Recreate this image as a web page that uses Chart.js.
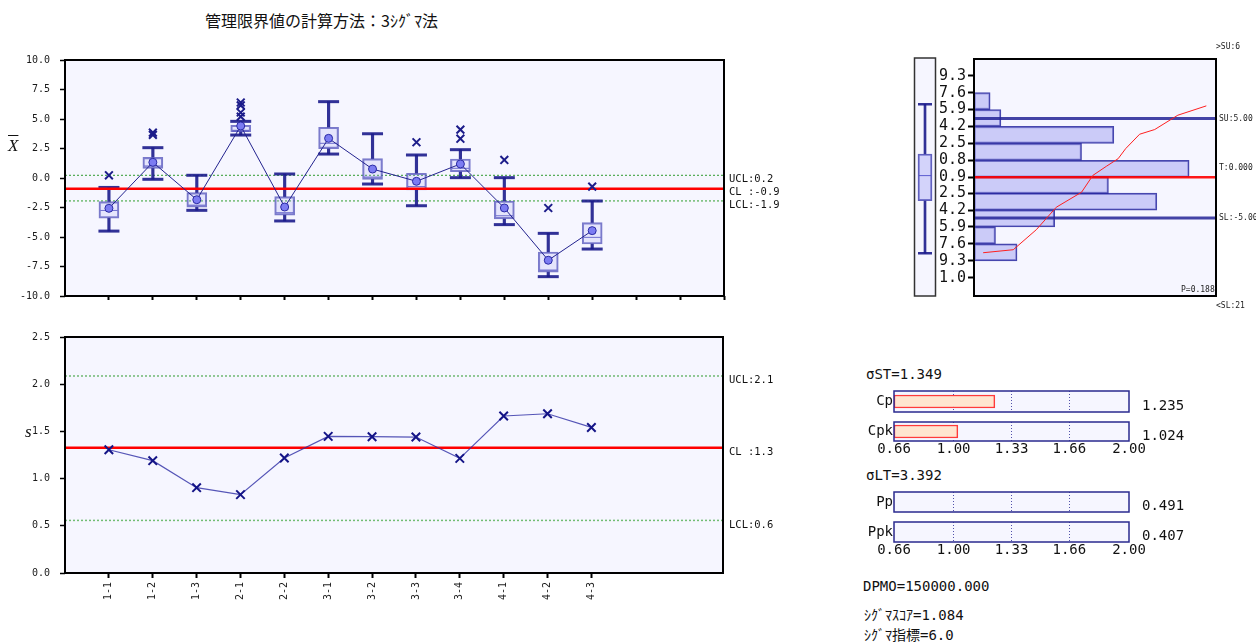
<!DOCTYPE html>
<html><head><meta charset="utf-8">
<script src="https://cdn.jsdelivr.net/npm/chart.js"></script>
<style>
body{margin:0;background:#fff;width:1256px;height:644px;overflow:hidden;position:relative;font-family:'DejaVu Sans Mono','Noto Sans CJK JP',monospace;}
canvas{position:absolute;z-index:1;}
.t{position:absolute;z-index:5;white-space:nowrap;color:#111;line-height:1;transform:translateY(-50%);}
.c{font-size:14px;font-family:'DejaVu Sans Mono','Noto Sans CJK JP',monospace;}
.s{font-size:8px;font-family:'DejaVu Sans Mono',monospace;color:#222;}
</style></head><body>
<div class="t" style="left:205px;top:20px;font:16px 'Noto Sans CJK JP';">管理限界値の計算方法：3ｼｸﾞﾏ法</div>
<div class="t" style="left:8px;top:146px;font:italic 17px 'Liberation Serif';text-decoration:overline;">X</div>
<div class="t" style="left:25px;top:432px;font:italic 17px 'Liberation Serif';">s</div>
<div class="t s" style="left:1216px;top:47px;">&gt;SU:6</div>
<div class="t s" style="left:1216px;top:306px;">&lt;SL:21</div>
<div class="t s" style="left:1181px;top:290px;">P=0.188</div>
<div class="t c" style="left:866px;top:374px;">σST=1.349</div>
<div class="t c" style="left:1142px;top:405px;">1.235</div>
<div class="t c" style="left:1142px;top:435px;">1.024</div>
<div class="t c" style="left:866px;top:475px;">σLT=3.392</div>
<div class="t c" style="left:1142px;top:505px;">0.491</div>
<div class="t c" style="left:1142px;top:535px;">0.407</div>
<div class="t c" style="left:863px;top:586px;">DPMO=150000.000</div>
<div class="t c" style="left:864px;top:615px;">ｼｸﾞﾏｽｺｱ=1.084</div>
<div class="t c" style="left:864px;top:635px;">ｼｸﾞﾏ指標=6.0</div>
<script>
// ---------- data ----------
const categories = ['1-1','1-2','1-3','2-1','2-2','3-1','3-2','3-3','3-4','4-1','4-2','4-3'];
const xbarMean    = [-2.57, 1.33, -1.84, 4.41, -2.46, 3.36, 0.76, -0.28, 1.19, -2.54, -6.97, -4.46];
const boxQ1       = [-3.40, 0.82, -2.48, 3.93, -3.14, 2.49, -0.11, -1.02, 0.53, -3.47, -7.97, -5.59];
const boxQ3       = [-2.00, 1.75, -1.24, 4.47, -1.58, 4.30, 1.64, 0.40, 1.61, -1.95, -6.27, -3.78];
const boxMedian   = [-2.75, 1.02, -2.30, 3.98, -2.94, 2.94, 0.08, -0.73, 0.82, -3.20, -7.80, -5.03];
const whiskerLow  = [-4.50, -0.11, -2.74, 3.64, -3.64, 2.03, -0.51, -2.35, 0.03, -3.95, -8.36, -6.02];
const whiskerHigh = [-0.80, 2.57, 0.23, 4.80, 0.34, 6.47, 3.75, 1.95, 2.40, 0.03, -4.69, -1.95];
const outliers = [[0.23],[3.85,3.65],[],[6.4,6.15,5.55,5.2],[],[],[],[3.03],[4.1,3.33],[1.53],[-2.54],[-0.73]];
const xbarTicks = [10, 7.5, 5, 2.5, 0, -2.5, -5, -7.5, -10];
const xbarLimits = [0.23, -0.91, -1.94];           // UCL, CL, LCL
const xbarLimitLabels = ['UCL:0.2', 'CL :-0.9', 'LCL:-1.9'];
const xSlots = [1,2,3,4,5,6,7,8,9,10,11,12,13,14,15];

const sValues = [1.306, 1.19, 0.904, 0.83, 1.218, 1.447, 1.444, 1.44, 1.214, 1.663, 1.687, 1.542];
const sTicks = [2.5, 2.0, 1.5, 1.0, 0.5, 0.0];
const sLimits = [2.087, 1.327, 0.557];              // UCL, CL, LCL
const sLimitLabels = ['UCL:2.1', 'CL :1.3', 'LCL:0.6'];

const histTicks = [9.3, 7.6, 5.9, 4.2, 2.5, 0.8, -0.9, -2.5, -4.2, -5.9, -7.6, -9.3, -11.0];
const histTickLabels = ['9.3','7.6','5.9','4.2','2.5','0.8','0.9','2.5','4.2','5.9','7.6','9.3','1.0'];
const histCounts = [3, 5, 26, 20, 40, 25, 34, 15, 4, 8];   // bins from 7.6..5.9 down to -7.6..-9.3
const cumCount = [1.7, 7.3, 11.6, 15.3, 20.0, 22.1, 24.6, 26.8, 28.2, 30.8, 33.6, 37.9, 43.2];
const cumValue = [-8.49, -8.19, -6.17, -3.92, -2.41, -0.72, 0.19, 0.96, 1.97, 3.42, 3.89, 5.33, 6.27];
const specValues = [5.0, 0.0, -5.0];
const specLabels = ['SU:5.00', 'T:0.000', 'SL:-5.00'];
const histMean = -0.91;
const overallBox = [-8.56, -3.31, -0.79, 1.37, 6.34];     // min, q1, median, q3, max

const capLabels = ['Cp', 'Cpk', 'Pp', 'Ppk'];
const capValues = [1.235, 1.024, 0.491, 0.407];
const capTicks = [0.66, 1.00, 1.33, 1.66, 2.00];

// ---------- setup ----------
Chart.defaults.font.family = "'DejaVu Sans Mono','Noto Sans CJK JP',monospace";
Chart.defaults.font.size = 10;
Chart.defaults.color = '#1a1a1a';
Chart.defaults.animation = false;
Chart.defaults.responsive = false;
Chart.defaults.plugins.legend.display = false;
Chart.defaults.plugins.tooltip.enabled = false;

const frame = {
  id: 'frame',
  beforeDraw(chart, args, o) {
    const {ctx, chartArea: a} = chart;
    ctx.save(); ctx.fillStyle = o.bg || '#f6f6ff';
    ctx.fillRect(a.left, a.top, a.right - a.left, a.bottom - a.top); ctx.restore();
  },
  afterDraw(chart, args, o) {
    const {ctx, chartArea: a} = chart;
    ctx.save(); ctx.strokeStyle = o.color || '#000'; ctx.lineWidth = o.width || 2;
    ctx.strokeRect(a.left, a.top, a.right - a.left, a.bottom - a.top); ctx.restore();
  }
};
function mk(left, top, w, h) {
  const c = document.createElement('canvas');
  c.width = w; c.height = h;
  c.style.left = left + 'px'; c.style.top = top + 'px';
  c.style.width = w + 'px'; c.style.height = h + 'px';
  document.body.appendChild(c);
  return c;
}
const fix = (w, h) => s => {
  if (w !== null) s.width = w;
  if (h !== null) s.height = h;
  s.paddingTop = 0; s.paddingBottom = 0; s.paddingLeft = 0; s.paddingRight = 0;
};
const setTicks = arr => s => { s.ticks = arr.map(v => ({value: v})); };
const pts = arr => arr.map((v, i) => ({x: i + 1, y: v}));
const hl = (v, x0, x1) => [{x: x0, y: v}, {x: x1, y: v}];
const NAVY = '#1c1c8a';
const WHISK = 'rgba(28,28,140,0.9)';

// ---------- X-bar chart ----------
new Chart(mk(0, 40, 800, 280), {
  type: 'bar',
  data: { datasets: [
    {type: 'line', data: outliers.flatMap((a, i) => a.map(v => ({x: i + 1, y: v}))), showLine: false,
     pointStyle: 'crossRot', pointRadius: 5.5, pointBorderColor: NAVY, pointBorderWidth: 2},
    {type: 'line', data: pts(xbarMean), borderColor: '#23238f', borderWidth: 1,
     pointRadius: 4, pointBackgroundColor: '#7c7cf2', pointBorderColor: '#2b2ba5', pointBorderWidth: 1},
    {type: 'line', data: hl(xbarLimits[1], 0, 15), borderColor: '#ff0000', borderWidth: 2.5, pointRadius: 0},
    {type: 'line', data: [...pts(whiskerHigh), ...pts(whiskerLow)], showLine: false,
     pointStyle: 'line', pointRadius: 10.5, pointBorderColor: WHISK, pointBorderWidth: 3},
    {type: 'line', data: pts(boxMedian), showLine: false, pointStyle: 'line', pointRadius: 8.5,
     pointBorderColor: 'rgba(70,70,190,0.75)', pointBorderWidth: 1},
    {type: 'bar', data: categories.map((_, i) => ({x: i + 1, y: [boxQ1[i], boxQ3[i]]})), barThickness: 20,
     backgroundColor: 'rgba(170,170,240,0.22)', borderColor: 'rgba(80,80,185,0.75)', borderWidth: 1.5,
     borderSkipped: false, grouped: false},
    {type: 'bar', data: categories.map((_, i) => ({x: i + 1, y: [whiskerLow[i], boxQ1[i]]})), barThickness: 2.5,
     backgroundColor: WHISK, borderWidth: 0, grouped: false},
    {type: 'bar', data: categories.map((_, i) => ({x: i + 1, y: [boxQ3[i], whiskerHigh[i]]})), barThickness: 2.5,
     backgroundColor: WHISK, borderWidth: 0, grouped: false},
    {type: 'line', data: hl(xbarLimits[0], 0, 15), borderColor: '#2e9a2e', borderWidth: 1, borderDash: [2, 2], pointRadius: 0},
    {type: 'line', data: hl(xbarLimits[2], 0, 15), borderColor: 'rgba(70,170,70,0.75)', borderWidth: 1.5, borderDash: [2, 2], pointRadius: 0}
  ]},
  options: {
    layout: {padding: {top: 20}},
    scales: {
      x: {type: 'linear', min: 0, max: 15, offset: false, afterBuildTicks: setTicks(xSlots),
          ticks: {display: false, autoSkip: false},
          grid: {offset: false, drawOnChartArea: false, drawTicks: true, tickLength: 4, tickColor: '#000', tickWidth: 2},
          border: {display: false}, afterFit: fix(null, 24)},
      y: {type: 'linear', min: -10, max: 10, afterBuildTicks: setTicks(xbarTicks),
          ticks: {callback: v => v.toFixed(1), padding: 10, autoSkip: false},
          grid: {drawOnChartArea: false, tickLength: 5, tickColor: '#000', tickWidth: 1.5},
          border: {display: false}, afterFit: fix(65, null)},
      y2: {type: 'linear', position: 'right', min: -10, max: 10, afterBuildTicks: setTicks(xbarLimits),
           ticks: {callback: (v, i) => xbarLimitLabels[i], autoSkip: false, padding: 5, labelOffset: 4, font: {size: 10.5}, color: '#111'},
           grid: {display: false, drawTicks: false}, border: {display: false}, afterFit: fix(76, null)}
    },
    plugins: {frame: {bg: '#f6f6ff', color: '#000', width: 2}}
  },
  plugins: [frame]
});

// ---------- s chart ----------
new Chart(mk(0, 317, 800, 327), {
  type: 'line',
  data: { datasets: [
    {data: pts(sValues), borderColor: 'rgba(45,45,165,0.8)', borderWidth: 1.2, pointStyle: 'crossRot',
     pointRadius: 6, pointBorderColor: '#141487', pointBorderWidth: 2},
    {data: hl(sLimits[1], 0, 15), borderColor: '#ff0000', borderWidth: 2.5, pointRadius: 0},
    {data: hl(sLimits[0], 0, 15), borderColor: '#2e9a2e', borderWidth: 1, borderDash: [2, 2], pointRadius: 0},
    {data: hl(sLimits[2], 0, 15), borderColor: 'rgba(70,170,70,0.75)', borderWidth: 1.5, borderDash: [2, 2], pointRadius: 0}
  ]},
  options: {
    layout: {padding: {top: 20}},
    scales: {
      x: {type: 'linear', min: 0, max: 15, offset: false, afterBuildTicks: setTicks(categories.map((_, i) => i + 1)),
          ticks: {callback: v => categories[v - 1], autoSkip: false, minRotation: 90, maxRotation: 90, padding: 4},
          grid: {offset: false, drawOnChartArea: false, tickLength: 5, tickColor: '#000', tickWidth: 2},
          border: {display: false}, afterFit: fix(null, 71)},
      y: {type: 'linear', min: 0, max: 2.5, afterBuildTicks: setTicks(sTicks),
          ticks: {callback: v => v.toFixed(1), padding: 10, autoSkip: false},
          grid: {drawOnChartArea: false, tickLength: 5, tickColor: '#000', tickWidth: 1.5},
          border: {display: false}, afterFit: fix(65, null)},
      y2: {type: 'linear', position: 'right', min: 0, max: 2.5, afterBuildTicks: setTicks(sLimits),
           ticks: {callback: (v, i) => sLimitLabels[i], autoSkip: false, padding: 6, labelOffset: 4.5, font: {size: 10.5}, color: '#111'},
           grid: {display: false, drawTicks: false}, border: {display: false}, afterFit: fix(77, null)}
    },
    plugins: {frame: {bg: '#f6f6ff', color: '#000', width: 2}}
  },
  plugins: [frame]
});

// ---------- overall box panel ----------
new Chart(mk(905, 40, 40, 270), {
  type: 'bar',
  data: { datasets: [
    {type: 'line', data: [{x: 1, y: overallBox[0]}, {x: 1, y: overallBox[4]}], showLine: false,
     pointStyle: 'line', pointRadius: 7, pointBorderColor: WHISK, pointBorderWidth: 2.5},
    {type: 'line', data: [{x: 1, y: overallBox[2]}], showLine: false, pointStyle: 'line', pointRadius: 6,
     pointBorderColor: 'rgba(70,70,200,0.85)', pointBorderWidth: 1},
    {type: 'bar', data: [{x: 1, y: [overallBox[1], overallBox[3]]}], barThickness: 14,
     backgroundColor: 'rgba(175,175,245,0.5)', borderColor: 'rgba(70,70,180,0.85)', borderWidth: 1.5, borderSkipped: false, grouped: false},
    {type: 'bar', data: [{x: 1, y: [overallBox[0], overallBox[1]]}], barThickness: 2, backgroundColor: WHISK, grouped: false},
    {type: 'bar', data: [{x: 1, y: [overallBox[3], overallBox[4]]}], barThickness: 2, backgroundColor: WHISK, grouped: false}
  ]},
  options: {
    layout: {padding: {left: 6, right: 8, top: 18, bottom: 14}},
    scales: {
      x: {type: 'linear', min: 0, max: 2, offset: false, display: false},
      y: {type: 'linear', min: -12.84, max: 10.98, display: false}
    },
    plugins: {frame: {bg: '#f6f6ff', color: '#333', width: 1.5}}
  },
  plugins: [frame]
});

// ---------- histogram ----------
new Chart(mk(930, 40, 326, 270), {
  type: 'bar',
  data: { datasets: [
    {type: 'line', data: cumCount.map((c, i) => ({x: c, y: cumValue[i]})), borderColor: '#ff2020', borderWidth: 1, pointRadius: 0},
    {type: 'line', data: hl(histMean, 0, 45), borderColor: 'rgba(255,0,0,0.9)', borderWidth: 2.5, pointRadius: 0},
    {type: 'line', data: hl(specValues[0], 0, 45), borderColor: 'rgba(35,35,150,0.85)', borderWidth: 3, pointRadius: 0},
    {type: 'line', data: hl(specValues[2], 0, 45), borderColor: 'rgba(35,35,150,0.85)', borderWidth: 3, pointRadius: 0},
    {type: 'bar', data: histCounts.map((c, i) => ({y: (histTicks[i + 1] + histTicks[i + 2]) / 2, x: c})),
     barThickness: 17, backgroundColor: 'rgba(185,185,245,0.7)', borderColor: 'rgba(40,40,160,0.85)',
     borderWidth: 1.5, borderSkipped: false, grouped: false}
  ]},
  options: {
    indexAxis: 'y',
    layout: {padding: {top: 19, bottom: 14}},
    scales: {
      x: {type: 'linear', min: 0, max: 45, display: false, offset: false},
      y: {type: 'linear', min: -12.84, max: 10.98, offset: false, afterBuildTicks: setTicks(histTicks),
          ticks: {callback: (v, i) => histTickLabels[i], autoSkip: false, font: {size: 15}, color: '#111', padding: 2},
          grid: {offset: false, drawOnChartArea: false, tickLength: 6, tickColor: '#000', tickWidth: 2},
          border: {display: false}, afterFit: fix(44, null)},
      y2: {type: 'linear', position: 'right', min: -12.84, max: 10.98, offset: false, afterBuildTicks: setTicks(specValues),
           ticks: {callback: (v, i) => specLabels[i], autoSkip: false, padding: 3, font: {size: 8}, color: '#222'},
           grid: {display: false, drawTicks: false}, border: {display: false}, afterFit: fix(40, null)}
    },
    plugins: {frame: {bg: '#f6f6ff', color: '#000', width: 2}}
  },
  plugins: [frame]
});

// ---------- capability bars ----------
const capRows = [[391, 21, false], [422, 19, true], [492, 20, false], [522, 20, true]];
capRows.forEach(([top, boxH, withTicks], i) => {
  const h = boxH + 4 + (withTicks ? 16 : 0);
  new Chart(mk(860, top - 2, 300, h), {
    type: 'bar',
    data: { labels: [capLabels[i]], datasets: [
      {data: [[capTicks[0], capValues[i]]], barThickness: 13, backgroundColor: '#ffe5cf',
       borderColor: '#ff3a3a', borderWidth: 1.5, borderSkipped: false, clip: 0}
    ]},
    options: {
      indexAxis: 'y',
      layout: {padding: {top: 2, right: 31}},
      scales: {
        x: {type: 'linear', min: capTicks[0], max: capTicks[4], afterBuildTicks: setTicks(capTicks),
            ticks: {display: withTicks, callback: v => v.toFixed(2), font: {size: 14}, color: '#111', padding: 0, autoSkip: false, maxRotation: 0},
            grid: {drawTicks: false, lineWidth: 1,
                   color: c => (c.tick && c.tick.value > capTicks[0] + 0.01 && c.tick.value < capTicks[4] - 0.01) ? 'rgba(40,40,150,0.8)' : 'rgba(0,0,0,0)'},
            border: {display: false, dash: [1, 2]}, afterFit: fix(null, withTicks ? 18 : 2)},
        y: {ticks: {font: {size: 14}, color: '#111', padding: 1}, grid: {display: false, drawTicks: false},
            border: {display: false}, afterFit: fix(34, null)}
      },
      plugins: {frame: {bg: '#f6f6ff', color: '#2a2a8f', width: 1.5}}
    },
    plugins: [frame]
  });
});
</script>
</body></html>
